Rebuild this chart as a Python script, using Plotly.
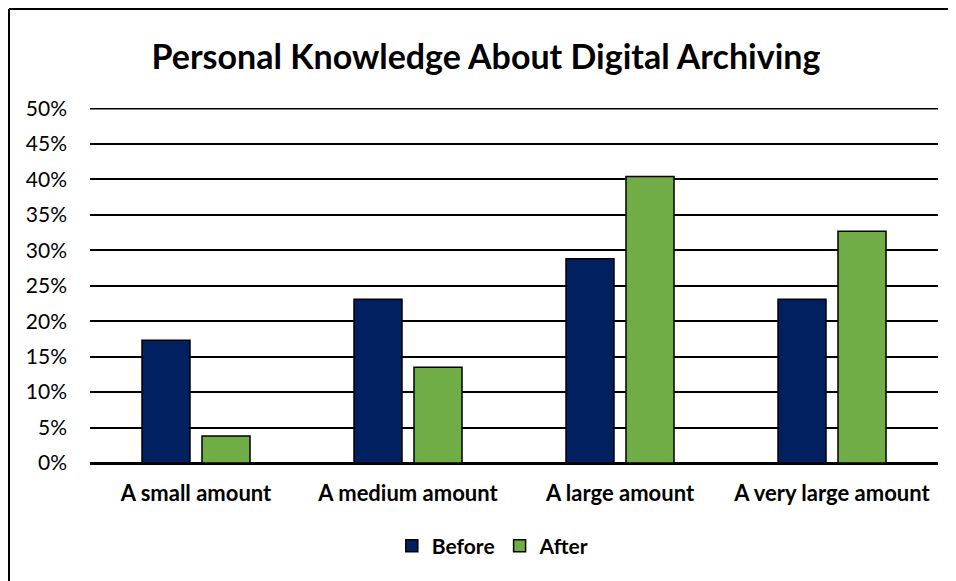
import plotly.graph_objects as go

categories = ["A small amount", "A medium amount", "A large amount", "A very large amount"]
before = [0.173, 0.231, 0.288, 0.231]
after = [0.038, 0.135, 0.404, 0.327]
tick_vals = [0, 0.05, 0.10, 0.15, 0.20, 0.25, 0.30, 0.35, 0.40, 0.45, 0.50]

W, H = 956, 581
ml, mr, mt, mb = 82, 26, 100, 126
pw, ph = W - ml - mr, H - mt - mb

font_fam = "Lato, 'Open Sans', sans-serif"

fig = go.Figure()
fig.add_trace(go.Bar(x=categories, y=before, name="<b>Before</b>",
                     marker=dict(color="#002060", line=dict(color="black", width=1.5))))
fig.add_trace(go.Bar(x=categories, y=after, name="<b>After</b>",
                     marker=dict(color="#70AD47", line=dict(color="black", width=1.5))))

fig.update_layout(
    width=W, height=H,
    margin=dict(l=ml, r=mr, t=mt, b=mb),
    paper_bgcolor="white", plot_bgcolor="white",
    barmode="group", bargap=0.434, bargroupgap=0.2,
    font=dict(family=font_fam, color="black", size=21),
    title=dict(text="<b>Personal Knowledge About Digital Archiving</b>",
               x=0.5, xanchor="center", y=1 - 49 / H, yanchor="middle",
               font=dict(size=34, family=font_fam, color="black")),
    legend=dict(orientation="h", x=0.475, xanchor="center",
                y=(mt + ph - 538) / ph, yanchor="middle",
                font=dict(size=21, family=font_fam), traceorder="normal",
                itemwidth=30),
    showlegend=True,
)
fig.update_yaxes(range=[0, 0.5008], tickvals=tick_vals, tickformat=".0%",
                 showgrid=True, gridcolor="black", gridwidth=2,
                 zeroline=True, zerolinecolor="black", zerolinewidth=3,
                 showline=False, ticks="", ticklabelstandoff=22,
                 tickfont=dict(size=21, family=font_fam))
fig.update_xaxes(showline=False, ticks="", ticklabelstandoff=15,
                 tickfont=dict(size=22, family=font_fam),
                 tickprefix="<b>", ticksuffix="</b>")

# top gridline at 50% (plotly drops the grid line at the range edge)
fig.add_shape(type="line", xref="paper", yref="y", x0=0, x1=1,
              y0=tick_vals[-1], y1=tick_vals[-1],
              line=dict(color="black", width=2), layer="below")

# outer chart border: left and top edges (right/bottom fall outside the view)
bx0 = (1 - ml) / pw
bx1 = (W + 40 - ml) / pw
by1 = (mt + ph - 1) / ph
by0 = -(H + 40 - mt - ph) / ph
fig.add_shape(type="line", xref="paper", yref="paper", x0=bx0, x1=bx0, y0=by0, y1=by1,
              line=dict(color="black", width=2))
fig.add_shape(type="line", xref="paper", yref="paper", x0=bx0, x1=bx1, y0=by1, y1=by1,
              line=dict(color="black", width=2))

fig.write_html("out.html", post_script="document.body.style.overflow='hidden';")
